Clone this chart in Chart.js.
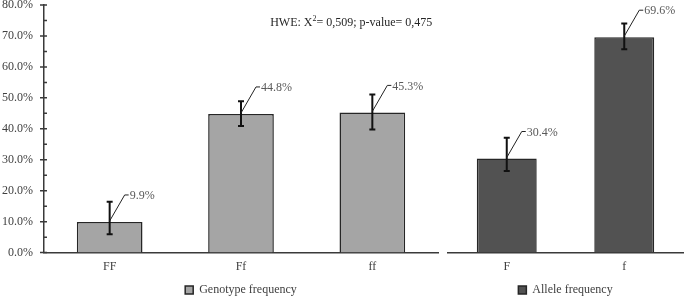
<!DOCTYPE html>
<html>
<head>
<meta charset="utf-8">
<script src="https://cdn.jsdelivr.net/npm/chart.js@4/dist/chart.umd.min.js"></script>
<style>
  html, body { margin: 0; padding: 0; background: #fff; }
  #wrap { position: relative; width: 685px; height: 298px; }
  canvas { position: absolute; top: 0; }
</style>
</head>
<body>
<div id="wrap">
  <canvas id="genotipo" width="442" height="298" style="left:0"></canvas>
  <canvas id="alelo" width="243" height="298" style="left:442px"></canvas>
</div>
<script>
// datos (%)
const genotypeLabels = ['FF', 'Ff', 'ff'];
const genotypeValues = [9.9, 44.8, 45.3];
const genotypeHigh = [16.4, 48.9, 51.1];
const genotypeLow = [5.9, 40.9, 39.8];

const alleleLabels = ['F', 'f'];
const alleleValues = [30.4, 69.6];
const alleleHigh = [37.1, 74.0];
const alleleLow = [26.4, 65.7];

const yTicks = [0, 10, 20, 30, 40, 50, 60, 70, 80];
const hweText = ['HWE: X', '2', '= 0,509; p-value= 0,475'];

Chart.defaults.font.family = '"Liberation Serif", "Times New Roman", serif';
Chart.defaults.font.size = 12;
Chart.defaults.color = '#404040';

const ejeColor = '#3a3a3a';

// barras de error + etiquetas con linea guia
const extras = {
  id: 'extras',
  afterDatasetsDraw(chart, args, opts) {
    const ctx = chart.ctx;
    const y = chart.scales.y;
    const meta = chart.getDatasetMeta(0);
    ctx.save();
    meta.data.forEach((bar, i) => {
      const yTop = y.getPixelForValue(opts.values[i]);
      // error
      const yHi = y.getPixelForValue(opts.high[i]);
      const yLo = y.getPixelForValue(opts.low[i]);
      ctx.strokeStyle = '#111';
      ctx.lineWidth = 2;
      ctx.beginPath();
      ctx.moveTo(bar.x, yHi); ctx.lineTo(bar.x, yLo);
      ctx.moveTo(bar.x - 3, yHi); ctx.lineTo(bar.x + 3, yHi);
      ctx.moveTo(bar.x - 3, yLo); ctx.lineTo(bar.x + 3, yLo);
      ctx.stroke();
      // etiqueta
      const cx = bar.x + 15, cy = yTop - 27;
      ctx.strokeStyle = '#222';
      ctx.lineWidth = 1;
      ctx.beginPath();
      ctx.moveTo(bar.x, yTop - 1);
      ctx.lineTo(cx, cy);
      ctx.lineTo(cx + 4, cy);
      ctx.stroke();
      ctx.fillStyle = '#595959';
      ctx.font = '12px "Liberation Serif", serif';
      ctx.textAlign = 'left';
      ctx.textBaseline = 'middle';
      ctx.fillText(opts.values[i].toFixed(1) + '%', cx + 5, cy + 1);
    });
    ctx.restore();
  }
};

// marcas del eje y (mayores cruzando, menores hacia dentro)
const marcasY = {
  id: 'marcasY',
  afterDraw(chart) {
    const y = chart.scales.y;
    const ctx = chart.ctx;
    const x = chart.chartArea.left;
    ctx.save();
    ctx.strokeStyle = ejeColor;
    ctx.lineWidth = 1.5;
    ctx.beginPath();
    yTicks.forEach((v, i) => {
      const p = y.getPixelForValue(v);
      ctx.moveTo(x - 4, p); ctx.lineTo(x + 3, p);
      if (i < yTicks.length - 1) {
        const m = y.getPixelForValue(v + 5);
        ctx.moveTo(x, m); ctx.lineTo(x + 3, m);
      }
    });
    ctx.stroke();
    ctx.restore();
  }
};

const textoHWE = {
  id: 'textoHWE',
  afterDraw(chart) {
    const ctx = chart.ctx;
    const a = chart.chartArea;
    let x = a.left + 0.574 * (a.right - a.left);
    const yy = chart.scales.y.getPixelForValue(74.3);
    ctx.save();
    ctx.fillStyle = '#262626';
    ctx.textBaseline = 'middle';
    ctx.textAlign = 'left';
    ctx.font = '12px "Liberation Serif", serif';
    ctx.fillText(hweText[0], x, yy);
    x += ctx.measureText(hweText[0]).width;
    ctx.font = '8px "Liberation Serif", serif';
    ctx.fillText(hweText[1], x, yy - 4);
    x += ctx.measureText(hweText[1]).width;
    ctx.font = '12px "Liberation Serif", serif';
    ctx.fillText(hweText[2], x, yy);
    ctx.restore();
  }
};

function opciones(mostrarY, padding) {
  const ejeY = {
    display: mostrarY,
    min: 0,
    max: 80,
    afterBuildTicks: (s) => { s.ticks = yTicks.map(v => ({ value: v })); },
    grid: { display: false, drawTicks: false },
    border: { display: true, color: ejeColor, width: 1.5 },
    ticks: {
      padding: 11,
      color: '#404040',
      callback: (v) => v.toFixed(1) + '%'
    }
  };
  if (mostrarY) {
    ejeY.afterFit = (s) => { s.width = 44; s.paddingTop = 0; s.paddingBottom = 0; };
  }
  return {
    animation: false,
    responsive: false,
    layout: { padding: padding },
    plugins: {
      legend: {
        position: 'bottom',
        fullSize: false,
        labels: { boxWidth: 8, boxHeight: 8, padding: 3, color: '#404040' }
      },
      tooltip: { enabled: false }
    },
    scales: {
      x: {
        grid: { display: false, drawTicks: false },
        border: { display: true, color: ejeColor, width: 1.5 },
        ticks: { padding: 7, color: '#404040' }
      },
      y: ejeY
    }
  };
}

const optGen = opciones(true, { top: 5, right: 4, left: 0, bottom: -8 });
optGen.plugins.extras = { values: genotypeValues, high: genotypeHigh, low: genotypeLow };
new Chart(document.getElementById('genotipo'), {
  type: 'bar',
  data: {
    labels: genotypeLabels,
    datasets: [{
      label: 'Genotype frequency',
      data: genotypeValues,
      backgroundColor: '#a5a5a5',
      borderColor: '#262626',
      borderWidth: 1.5,
      barPercentage: 0.5,
      categoryPercentage: 1
    }]
  },
  options: optGen,
  plugins: [extras, marcasY, textoHWE]
});

const optAle = opciones(false, { top: 5, right: 2, left: 6, bottom: -8 });
optAle.plugins.extras = { values: alleleValues, high: alleleHigh, low: alleleLow };
new Chart(document.getElementById('alelo'), {
  type: 'bar',
  data: {
    labels: alleleLabels,
    datasets: [{
      label: 'Allele frequency',
      data: alleleValues,
      backgroundColor: '#525252',
      borderColor: '#262626',
      borderWidth: 1.5,
      barPercentage: 0.51,
      categoryPercentage: 1
    }]
  },
  options: optAle,
  plugins: [extras]
});
</script>
</body>
</html>
